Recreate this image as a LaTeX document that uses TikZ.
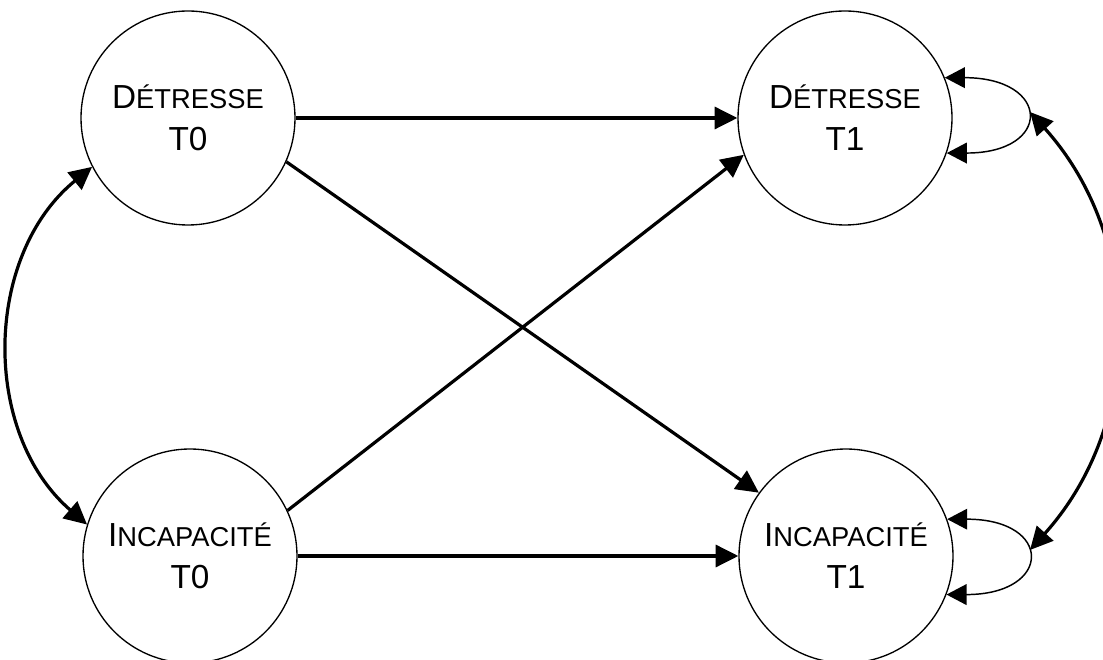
\documentclass[tikz,border=0pt]{standalone}
\usepackage{fontspec}
\setmainfont{Liberation Sans}
\usepackage{tikz}
\usetikzlibrary{arrows.meta}

% petites capitales simulees
\newcommand{\petit}[1]{{\fontsize{20.5}{24}\selectfont #1}}

\begin{document}
\begin{tikzpicture}[
x=0.75pt, y=0.75pt,
>={Triangle[length=17pt, width=16.5pt]},
state/.style={draw, 
circle, 
line width=1pt, 
minimum size=160.5pt, 
inner sep=0pt, 
align=center, 
font={\fontsize{25}{31.5}\selectfont}}, 
arrow/.style={->, line width=2.4pt}, 
biarrow/.style={<->, line width=2.4pt}, 
selfarrow/.style={{Triangle[length=15pt, width=15.5pt]}-{Triangle[length=15pt, width=15.5pt]}, line width=1.1pt}
]
\useasboundingbox (0,0) rectangle (1103,660);

\node[state] (det0) at (188,542) {D\petit{ÉTRESSE}\\T0}; 
\node[state] (det1) at (845,542) {D\petit{ÉTRESSE}\\T1}; 
\node[state] (inc0) at (190,104) {I\petit{NCAPACITÉ}\\T0}; 
\node[state] (inc1) at (846,104) {I\petit{NCAPACITÉ}\\T1};

\coordinate (boucle1) at (1030,548); 
\coordinate (boucle0) at (1030,110);

\draw[arrow] (det0) -- (det1); 
\draw[arrow] (inc0) -- (inc1); 
\draw[arrow] (det0.-24) -- (inc1.144); 
\draw[arrow] (inc0.25) -- (det1.200);

\draw[biarrow] (det0.207) to[bend right=50] (inc0.163); 
\draw[biarrow] (boucle1) to[bend left=42] (boucle0);

\draw[selfarrow] (det1.22) to[out=0, in=0, looseness=3.6] (det1.-19); 
\draw[selfarrow] (inc1.20) to[out=0, in=0, looseness=3.6] (inc1.-21);

\end{tikzpicture}
\end{document}
